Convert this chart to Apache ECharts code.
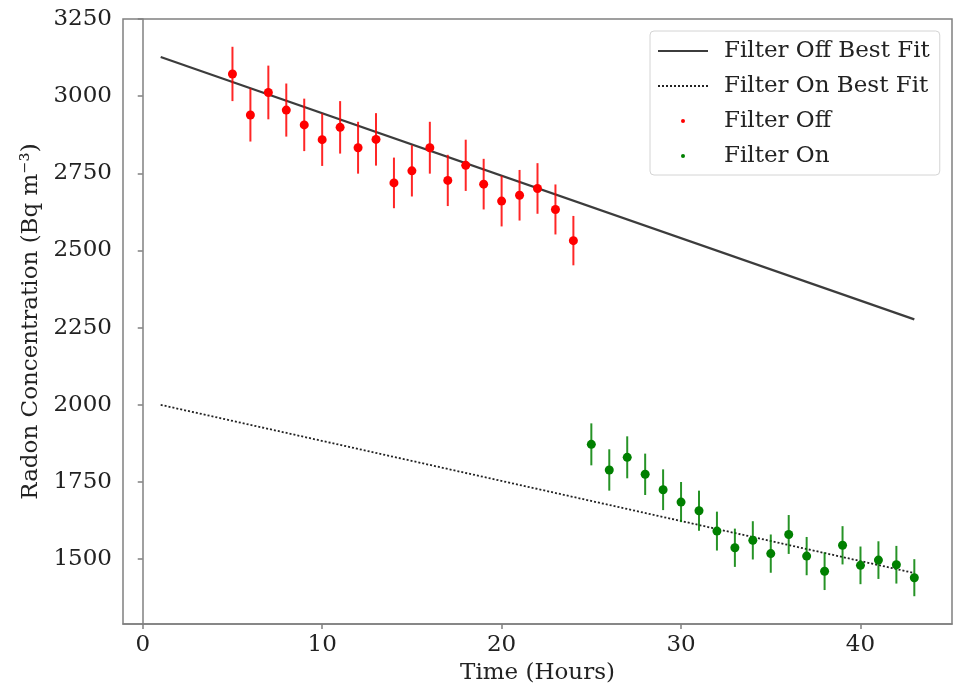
<!DOCTYPE html>
<html>
<head>
<meta charset="utf-8">
<style>
  html, body { margin: 0; padding: 0; background: #ffffff; }
  #chart { width: 960px; height: 690px; }
</style>
<script src="https://cdn.jsdelivr.net/npm/echarts@6/dist/echarts.min.js"></script>
</head>
<body>
<div id="chart"></div>
<script>
// Hourly radon readings with the filter off (hours 5-24) and on (hours 25-43)
const offHours  = [5, 6, 7, 8, 9, 10, 11, 12, 13, 14, 15, 16, 17, 18, 19, 20, 21, 22, 23, 24];
const offValues = [3072, 2939, 3012, 2955, 2907, 2859, 2899, 2833, 2860, 2719, 2758, 2833, 2727, 2776, 2715, 2660, 2679, 2701, 2633, 2532];
const offErrors = [88, 86, 87, 86, 85, 85, 85, 84, 85, 82, 83, 84, 83, 83, 82, 82, 82, 82, 81, 80];

const onHours  = [25, 26, 27, 28, 29, 30, 31, 32, 33, 34, 35, 36, 37, 38, 39, 40, 41, 42, 43];
const onValues = [1872, 1789, 1830, 1775, 1725, 1685, 1657, 1591, 1537, 1561, 1518, 1580, 1510, 1461, 1545, 1480, 1497, 1482, 1440];
const onErrors = [68, 67, 68, 67, 66, 65, 65, 63, 62, 62, 62, 63, 62, 61, 62, 61, 61, 61, 60];

// Straight-line fits, evaluated at the first and last hour
const fitHours = [1, 43];
const fitOff   = [3127, 2277];
const fitOn    = [2000, 1455];

const xTicks = [0, 10, 20, 30, 40];
const yTicks = [1500, 1750, 2000, 2250, 2500, 2750, 3000, 3250];

const FONT = 'DejaVu Serif';
const FS = 23;
const RED = '#ff0000';
const GREEN = '#008000';
const SPINE = '#808080';

const zip = (xs, ys) => xs.map((x, i) => [x, ys[i]]);
const zip3 = (xs, ys, es) => xs.map((x, i) => [x, ys[i], es[i]]);

function errorBars(color) {
  return function (params, api) {
    const x = api.value(0), y = api.value(1), e = api.value(2);
    const top = api.coord([x, y + e]);
    const bot = api.coord([x, y - e]);
    return {
      type: 'line',
      shape: { x1: top[0], y1: top[1], x2: bot[0], y2: bot[1] },
      style: { stroke: color, lineWidth: 2, opacity: 0.85 }
    };
  };
}

const chart = echarts.init(document.getElementById('chart'), null, { renderer: 'canvas' });

chart.setOption({
  animation: false,
  backgroundColor: '#ffffff',
  grid: {
    left: 123, top: 19, right: 8, bottom: 57,
    show: true, borderColor: SPINE, borderWidth: 1.5, backgroundColor: 'transparent'
  },
  legend: {
    data: [
      { name: 'Filter Off Best Fit', itemStyle: { opacity: 0 } },
      { name: 'Filter On Best Fit', itemStyle: { opacity: 0 } },
      { name: 'Filter Off' },
      { name: 'Filter On' }
    ],
    orient: 'vertical',
    left: 650, top: 31,
    padding: [8, 10, 7, 7],
    itemWidth: 50, itemHeight: 4, itemGap: 11,
    backgroundColor: 'rgba(255,255,255,0.8)',
    borderColor: '#d4d4d4', borderWidth: 1, borderRadius: 4,
    textStyle: { fontFamily: FONT, fontSize: FS, color: '#222', lineHeight: 24, padding: [0, 0, 0, 11] }
  },
  xAxis: {
    type: 'value', min: -1.1, max: 45.1,
    name: 'Time (Hours)', nameLocation: 'middle', nameGap: 38,
    nameTextStyle: { fontFamily: FONT, fontSize: FS, color: '#222' },
    axisLine: { show: true, lineStyle: { color: SPINE, width: 1.5 } },
    axisTick: { show: true, length: 5, inside: false, customValues: xTicks, lineStyle: { color: SPINE, width: 1.5 } },
    axisLabel: { customValues: xTicks, margin: 10, fontFamily: FONT, fontSize: FS, color: '#222',
                 formatter: v => String(v) },
    splitLine: { show: false }
  },
  yAxis: {
    type: 'value', min: 1290, max: 3250,
    name: 'Radon Concentration (Bq m\u207B\u00B3)', nameLocation: 'middle', nameGap: 71, nameRotate: 90,
    nameTextStyle: { fontFamily: FONT, fontSize: FS, color: '#222' },
    axisLine: { show: true, lineStyle: { color: SPINE, width: 1.5 } },
    axisTick: { show: true, length: 5, inside: false, customValues: yTicks, lineStyle: { color: SPINE, width: 1.5 } },
    axisLabel: { customValues: yTicks, margin: 11, fontFamily: FONT, fontSize: FS, color: '#222',
                 formatter: v => String(v) },
    splitLine: { show: false }
  },
  series: [
    {
      name: 'Filter Off Best Fit', type: 'line', data: zip(fitHours, fitOff),
      symbol: 'none', showSymbol: false, z: 2,
      lineStyle: { color: '#3c3c3c', width: 2.2, type: 'solid' },
      itemStyle: { color: '#3c3c3c' }
    },
    {
      name: 'Filter On Best Fit', type: 'line', data: zip(fitHours, fitOn),
      symbol: 'none', showSymbol: false, z: 2,
      lineStyle: { color: '#222222', width: 1.8, type: [2, 2] },
      itemStyle: { color: '#222222' }
    },
    {
      name: 'Filter Off error', type: 'custom', renderItem: errorBars(RED),
      data: zip3(offHours, offValues, offErrors), encode: { x: 0, y: 1 }, z: 3, silent: true
    },
    {
      name: 'Filter On error', type: 'custom', renderItem: errorBars(GREEN),
      data: zip3(onHours, onValues, onErrors), encode: { x: 0, y: 1 }, z: 3, silent: true
    },
    {
      name: 'Filter Off', type: 'scatter', data: zip(offHours, offValues),
      symbol: 'circle', symbolSize: 9, z: 4,
      itemStyle: { color: RED, opacity: 1 }
    },
    {
      name: 'Filter On', type: 'scatter', data: zip(onHours, onValues),
      symbol: 'circle', symbolSize: 9, z: 4,
      itemStyle: { color: GREEN, opacity: 1 }
    }
  ]
});
</script>
</body>
</html>
